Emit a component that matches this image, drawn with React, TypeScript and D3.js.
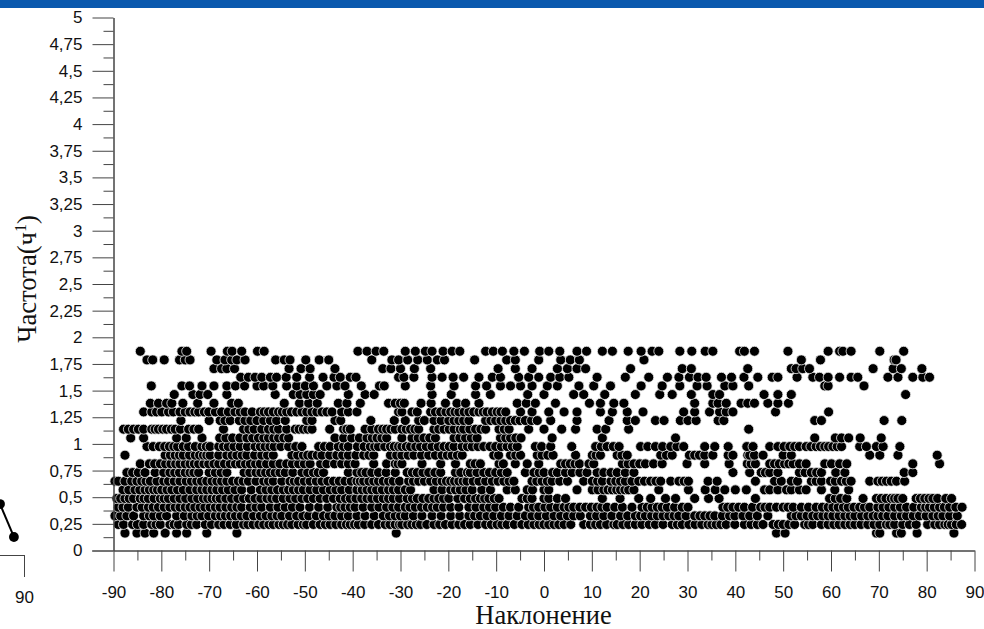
import React, { useEffect, useRef } from 'react';
import * as d3 from 'd3';

// frequency levels, one list of inclinations per level
const row0163 = [-87.6,-85.1,-83.4,-81.6,-79.2,-76.8,-74.7,-70.5,-64.2,-30.9,48.6,50.4,69.5,70.2,73.7,74.7,78,85.7];
const row0244 = [-89,-87.9,-86,-83.7,-82,-80.2,-78.2,-76.4,-74.7,-72.6,-70.8,-68,-65.6,-62.8,-60.8,-58.6,-56.6,-54.5,-52.7,-49.6,-46.8,-44.7,-42.3,-40.5,-38.8,-36,-33.2,-31.1,-29.7,-27.6,-25.8,-23,-20.6,-17.8,-15.4,-12.2,-9.8,-7.7,-4.6,-2.1,0,2.1,4.2,8.3,11.8,15.3,17.7,20.5,23.3,26.8,28.9,31.6,34.3,36,38.1,39.9,41.9,43.3,45.8,47.9,50,52.4,56.2,58,59.4,62.9,65,67.7,70.2,73.3,77.8,81.7,83.8,85.2,87.3];
const row0325 = [-89.7,-87.2,-85.8,-83.7,-81.6,-78.9,-76.8,-73.6,-71.5,-68.7,-66.6,-64.5,-62.1,-59.3,-56.9,-54.8,-51.7,-49.2,-46.1,-43.7,-40.9,-37.4,-33.6,-31.1,-29,-25.5,-23.4,-19.5,-15.7,-13.3,-10.5,-7.3,-3.9,-1.1,2.1,4.9,7.6,9.7,12.5,16,19.1,21.2,23.7,26.1,28.2,29.7,31.5,33.6,35.7,38.8,39.9,41.6,44.6,46.8,51.7,53.8,56.2,58.3,60.4,62.9,65,67.7,69.8,71.9,74.7,78.5,81.3,83.4,86.4];
const row0406 = [-89,-86.9,-85.1,-82.7,-80.6,-78.2,-76.1,-74,-71.9,-69.8,-67.7,-65.3,-63.2,-61.4,-59,-57.2,-54.1,-51,-47.1,-43.3,-41.6,-39.5,-36,-32.9,-30.4,-29,-26.9,-24.4,-22.3,-19.5,-17.8,-15.7,-12.6,-10.1,-7,-5.3,-3.2,-1.1,1.4,4.2,6.2,8.7,11.1,13.2,16.4,20.5,22.6,24.7,28.9,30.1,37.4,39.5,41.9,45.3,47.2,50,52.1,53.8,56.9,59.4,61.5,63.6,66,68.1,69.8,73.3,75.8,78.9,80.6,82.7,84.8,87.4];
const row0488 = [-89.3,-87.6,-85.8,-84.4,-82.7,-80.2,-78.5,-76.1,-73.6,-71.2,-69.4,-67.7,-65.3,-62.8,-60.4,-57.9,-55.9,-53.1,-50.6,-48.2,-45.4,-42.6,-40.5,-38.1,-36,-33.6,-31.5,-28.6,-26.5,-24.1,-22,-19.9,-15.4,-13.3,-11.5,-9.4,-4.6,-2.5,1,4.5,12.2,15.9,19.8,22.3,25.4,27.5,31.5,34.4,36.6,44.2,59.7,62,66.7,69.5,70.5,72.6,74,77.8,79.6,81.3,85.2];
const row0569 = [-88,-85.5,-83.4,-81.6,-79.9,-77.8,-75.4,-72.6,-70.5,-68.4,-66,-63.2,-59.3,-56.9,-54.5,-52.4,-50.3,-47.5,-44.7,-42.3,-39.1,-37,-35,-32.5,-30.4,-27.9,-23,-19.5,-17.5,-15,-11.2,-7.7,-3.5,1,6.9,10.1,12.5,14.3,16,17.7,24,30.2,33.7,35.8,37.8,40,42.3,46.1,47.2,48.9,50.7,51.7,53.4,54.8,58,60.8,63.7];
const row0650 = [-89.7,-89,-86.2,-84.1,-82.3,-79.5,-78.5,-76.1,-72.6,-70.5,-68.4,-66.3,-63.9,-61.8,-58.6,-56.6,-53.1,-51.3,-48.9,-46.4,-44,-41.6,-39.1,-37.7,-35.6,-33.6,-31.5,-28.3,-26.2,-23.7,-21.3,-19.5,-17.8,-16.1,-13.6,-10.8,-8.4,-6.3,-2.5,-0.4,1.7,4.9,8.3,10.1,12.2,15,17,19.8,22.3,24.4,28.2,30.2,34.3,36.2,44.2,48.2,49.6,51.7,55.9,58,59.9,62.2,64.2,68.1,69.8,71.6,73.7,75.4];
const row0731 = [-87.2,-86,-84.8,-83.4,-81.3,-78.2,-76.2,-74,-72.2,-68.7,-66.3,-62.7,-60.2,-58.2,-56.2,-54.1,-50.6,-48.2,-46.1,-40.9,-39.1,-37.2,-34.6,-31.1,-28.6,-26.5,-24.1,-21.6,-18.5,-17.4,-15.4,-12.6,-10.1,-7.7,-3.9,-2.1,0,1.8,2.8,5.9,9,11.1,12.5,15.3,18.8,39.5,43,45.4,47.2,48.9,53.4,55.9,58,62.9,75.3,77.1];
const row0813 = [-84.4,-82.5,-80.2,-78,-76.1,-74,-72.2,-70.1,-68,-65.6,-63.5,-61.4,-59.3,-56.6,-53.8,-51.3,-48.9,-45.4,-42.3,-39.5,-35.6,-32.9,-31.1,-29.7,-25.5,-21.6,-18.5,-15.4,-13.3,-9.4,-6,-3.5,-1.1,3.5,5.5,7.4,10.4,16.4,18.8,21.2,24.7,29.9,33.6,38.7,42.5,44.2,47.2,48.2,50.3,52.1,53.4,54.8,58.7,60.1,61.8,63.3,77.1,82.7];
const row0894 = [-87.6,-79.2,-77.1,-75.4,-72.9,-71.2,-69.8,-68,-66.3,-64.2,-62.1,-59,-56.6,-52.7,-50.3,-48.5,-46.4,-43.3,-40.9,-37.7,-35.6,-32.1,-30.8,-29.7,-27.2,-24.1,-21.3,-19.2,-17.1,-10.5,-7,-4.9,-0.4,1.9,6.6,10.1,11.8,15.3,17.4,24.4,26.8,30.4,31.5,33.6,35.3,38.5,39.5,42.6,44,45.8,50,51.7,68.1,70.2,74,82.2];
const row0975 = [-83,-80.4,-78.3,-76.6,-74.3,-71.5,-69.8,-68,-66,-63.5,-60.4,-58.3,-56.4,-53.4,-50.6,-47.1,-44.7,-43,-40.9,-39,-36.3,-34.6,-32.1,-30.4,-29.7,-27.9,-25.8,-23.4,-20.9,-18.8,-17.1,-15,-12.6,-10.1,-7.7,-5.6,-1.8,1.4,5.8,10.8,13.2,15.7,20.2,23.3,26.5,29.2,33.6,35.7,38.5,42.4,43.7,47.2,48.9,51.4,53.4,54.8,56.9,58.7,60.4,62.2,66,67.4,69.5,70.9,74.4];
const row1056 = [-86.4,-83.7,-76.8,-74.8,-71.5,-67.8,-65.1,-62.1,-59.7,-57.6,-55.5,-53.4,-43.7,-40.2,-37,-34.9,-32.9,-29.7,-27.6,-25.1,-22.7,-18.8,-16.4,-14,-9.1,-7,-4.8,1.7,12.2,27.5,56.6,60.9,62.2,63.7,66.1,70.5];
const row1138 = [-87.9,-85.8,-83.7,-82,-80.6,-78.9,-77.1,-74.3,-72.2,-67,-62.8,-60.6,-57.6,-55.5,-52,-50.3,-48.5,-44.8,-41.9,-40.5,-37.4,-34.6,-32.9,-31.1,-29.7,-27.9,-26.2,-23,-20.9,-18.8,-16.8,-14.3,-12.2,-9.4,-7.3,-3.2,0,3.7,6.6,11.1,12.9,17.7,42.8];
const row1219 = [-75.9,-70,-67.7,-65.6,-63.7,-61.3,-58.6,-57.2,-55.9,-54.1,-49.6,-48.5,-43.7,-42.5,-36.2,-31.3,-29,-26.2,-23,-19.9,-17.8,-15.7,-12.2,-10.1,-8,-6,-3.9,-1.4,1.4,6.9,13.6,17.4,19.1,23.3,25.1,28.5,30.1,31.8,36.4,37.6,56.6,58,71.1,74.8];
const row1300 = [-83.7,-82,-79.9,-78.5,-77.5,-76.1,-74,-72.2,-70.1,-68.7,-67.4,-66,-64.6,-62.5,-59.3,-57.6,-55.5,-53.8,-51.7,-49.6,-47.5,-45.4,-42.3,-40.9,-39.1,-30.4,-29.7,-27.6,-23.7,-21.6,-19.5,-17.8,-15.7,-13.6,-11.9,-9.8,-8,-4.9,-2.5,1,4.2,6.9,11.8,14.3,17.4,20.7,29.2,31.5,34.6,36.7,38.1,39.5,48.4,59.5];
const row1381 = [-82.3,-80.6,-78.9,-77.8,-75.5,-72.4,-69,-65.3,-63.9,-54.3,-51.1,-49.2,-47.4,-43,-41.2,-38.4,-32.5,-31.1,-30,-29.2,-25.7,-23.6,-20.6,-18.2,-16.4,-13.6,-5.6,-3.7,-1.8,2.4,9.5,11.8,14.6,16.7,31.5,35.3,36.4,38.1,41.2,42.6,44,46.8,48.9,51.1];
const row1463 = [-77.3,-73.4,-71.9,-70.3,-66.3,-56.2,-52.4,-51,-49.6,-48.2,-46.8,-40.9,-37.4,-35.5,-23.4,-19.4,-14.3,-11.2,-3.4,0,6.2,8.3,12.7,19.1,24.2,26.8,30.8,35.3,36.7,46,48.9,51.7,75.6];
const row1544 = [-82.1,-75.7,-74.1,-71.5,-69,-66.3,-64.5,-62.6,-60,-58.6,-56.7,-53.8,-51.7,-49.9,-48.2,-45.4,-43.3,-41.6,-38.2,-34.4,-33.4,-29,-23.7,-18.8,-14.3,-12,-9.1,-7,-4.9,-2.5,0.7,2.8,7.3,10.4,13.9,20.3,24.7,28.4,32,34.1,37.8,39.5,42.8,58.7,59.4,66.9];
const row1625 = [-63.4,-61.8,-60.4,-59,-57.2,-55.9,-53.9,-51.7,-49,-46.2,-43.9,-42.6,-40.5,-39.3,-30.4,-29.3,-27.2,-23.4,-21.3,-19,-16.8,-13.6,-10.8,-9.1,-5.3,-3.2,-1.1,1.4,3.3,5.2,11.1,17,21.9,25.8,28.2,30.4,32.2,33.9,37.1,39.2,41.8,44.7,47.7,48.9,52.9,56.2,57.6,59.4,61.8,64.2,65.6,71.9,74,77.1,79.2,80.6];
const row1706 = [-69,-67.4,-66.3,-64.7,-53.3,-50.8,-48.9,-43.7,-33.7,-32,-30,-27.1,-23.7,-9.6,-6,-2.5,2.8,4.9,6.9,8.7,18.1,28.9,30.8,42.6,51.7,52.7,54.1,55.5,68.8,73,74.7,79];
const row1788 = [-83,-81.8,-79.4,-76.2,-75,-74,-68.4,-66.7,-65.3,-64.2,-62.5,-56.1,-54.3,-53.1,-49.8,-47,-45,-36,-31.8,-30.4,-28.5,-26.4,-24.4,-22.3,-20.8,-14.5,-7.8,-6,-1.1,3.5,5.5,7.4,20.9,53.8,57.8,73.2,73.6];
const row1869 = [-84.4,-75.7,-74.7,-69.6,-66.2,-65.2,-63.2,-59.9,-58.5,-38.9,-37,-35.1,-33.5,-29,-26.9,-24.8,-23.4,-21.1,-19.2,-17.6,-12.2,-10.6,-8.7,-6.3,-4.1,-0.9,1,3.3,6.9,8.9,12.2,14.3,17.6,20.3,22.6,24,28.4,30.9,33.7,35.3,40.9,41.9,44,51,59.4,61.8,62.5,64.2,70.2,75.2];

// second pass over the picture: points half hidden under their neighbours
const more0244 = [-85,-81.1,-77.3,-73.7,-69.5,-66.9,-64.3,-61.9,-59.6,-57.5,-55.4,-53.6,-51.4,-50.3,-48.2,-45.7,-43.5,-41.3,-39.6,-37.5,-34.6,-32.2,-30.2,-28.5,-26.7,-24.5,-21.8,-19.2,-16.6,-13.8,-11,-8.8,-6.2,-3.3,-1,1,3.1,5.6,9.7,10.8,13.1,14.6,16.5,19.1,22,24.9,27.9,30.3,33,35.1,37,44.6,49,51.2,54.5,55.3,60.6,61.7,64,66.3,69,71.6,72.3,75,76.4,80.2,82.7,84.5,86.2];
const more0325 = [-88.5,-82.5,-80.2,-75.2,-72.5,-70.1,-67.6,-65.5,-63.3,-60.7,-58.1,-55.8,-53.2,-50.4,-47.6,-44.9,-42.3,-39.1,-35.5,-32.3,-30,-27.3,-21.5,-17.6,-14.5,-11.9,-8.9,-5.6,-2.5,0.5,3.5,6.2,11,14.2,17.5,20.2,22.5,24.9,27.2,32.6,34.7,37.3,43,52.7,55,57.2,59.4,61.7,64,66.4,68.8,70.8,73.3,75.8,77.2,79.9,82.4,84.8];
const more0406 = [-88,-84,-81.7,-79.4,-77.1,-75,-73,-70.9,-68.7,-66.5,-64.2,-60.2,-55.6,-52.6,-49,-45.2,-42.5,-40.5,-37.8,-34.5,-31.6,-28,-25.6,-23.3,-21,-14.2,-11.4,-8.5,-2.2,0.2,2.8,5.2,7.5,9.9,12.1,14.8,18.4,21.6,23.7,25.8,27.3,38.4,40.7,43.6,46.2,48.6,51,55.3,58.2,60.4,62.6,64.8,67,70.9,72.1,74.5,77.3,79.8,81.6,83.7,86.1];
const more0488 = [-88.5,-86.7,-83.6,-81.5,-79.4,-77.3,-74.9,-72.4,-70.3,-68.5,-66.5,-64,-61.6,-59.2,-56.9,-54.5,-51.9,-49.4,-46.8,-44,-41.5,-39.3,-37,-34.8,-32.5,-30.2,-27.5,-25.3,-23,-21,-18,-16.6,-14.3,-12.4,-10.4,-3.5,0,2.8,60.9,63.3,71.5,73.3,75,78.7,80.5,82.3,84];
const more0569 = [-86.8,-84.5,-82.5,-80.8,-78.8,-76.6,-74,-71.5,-69.4,-67.2,-64.6,-61.2,-58.1,-55.7,-53.4,-51.3,-48.9,-46.1,-43.5,-40.7,-38,-36,-33.8,-31.5,-29,-21.3,-18.5,-16.3,-13,-6,-2.4,0,11.3,13.4,15.2,16.9,18.8];
const more0650 = [-87.6,-85.1,-83.2,-80.9,-77.3,-74.8,-73.7,-71.6,-69.4,-67.4,-65.1,-62.9,-60.2,-57.6,-54.8,-52.2,-50.1,-47.6,-45.2,-42.8,-40.3,-38.4,-36.6,-34.6,-32.5,-30.2,-27.3,-25,-22.5,-20.4,-18.7,-16.9,-14.8,-12.2,-9.6,-7.3,-1.5,0.7,3.3,11.2,14,16,18.4,21,23.4,26.5,29.3,53,56.9,60.9,63.2,70.7,72.6];
const more0731 = [-79.5,-77.2,-75,-73.2,-70,-67.5,-61.5,-59.2,-57.2,-55.2,-52.5,-49.4,-47.2,-38.1,-36,-33,-27.5,-25.3,-22.8,-16,-14,-11.4,-8.9,-1,4.5,7.5,14,17,46.3,54.6,57,61];
const more0813 = [-81.4,-79.1,-77,-75,-73.1,-71.1,-69,-66.8,-64.5,-62.4,-60.3,-58,-55.2,-52.6,-50.1,-46.7,-43.8,-40.9,-30.5,-14.4,-8.5,4.5,6.5,9.4,17.6,20,22.9,43.3,49.2,51.2];
const more0894 = [-78.1,-76.2,-74.1,-72,-70.5,-65.2,-63.1,-60.5,-57.8,-51.5,-49.4,-47.4,-44.8,-42.1,-39.3,-36.6,-28.4,-25.6,-22.7,-20.2,-18.1,-9.5,-5.9,-1.4,0.8,10.9,16.3,25.6,32.5,43];
const more0975 = [-81.7,-79.3,-77.4,-75.4,-72.9,-70.6,-67,-64.8,-62,-59.3,-57.3,-55,-51.9,-45.9,-41.9,-37.6,-35.4,-33.3,-31.3,-28.8,-26.8,-24.6,-22.1,-19.8,-16,-13.8,-11.3,-8.9,-6.6,-0.5,12,14.5,21.7,24.8,27.8,50.2,52.4,55.8,57.8,59.5,61.3];
const more1056 = [-66.5,-63.6,-60.9,-58.6,-56.5,-54.4,-41.9,-38.6,-35.9,-33.9,-26.3,-23.9,-17.6,-15.2,-8,-5.9];
const more1138 = [-86.9,-84.8,-81.3,-79.7,-77.9,-76,-73.2,-61.7,-59,-56.5,-53.8,-51.2,-49.4,-41.2,-36,-33.7,-32,-28.8,-27,-22,-19.8,-17.5,-15.5,-13.2,-8.3];
const more1219 = [-66.7,-62.5,-60,-25,-21.5,-18.8,-16.8,-11.1,-9,-7,-5,-2.6];
const more1300 = [-81,-75,-73,-71,-63.5,-61,-58.5,-56.6,-54.7,-52.8,-50.6,-48.5,-46.4,-44.3,-26.5,-22.7,-20.5,-18.6,-16.7,-14.7,-12.7,-10.8,-9];

const levels = [0.163,0.244,0.325,0.406,0.488,0.569,0.65,0.731,0.813,0.894,0.975,1.056,1.138,1.219,1.3,1.381,1.463,1.544,1.625,1.706,1.788,1.869];
const rows = [row0163,row0244.concat(more0244),row0325.concat(more0325),row0406.concat(more0406),row0488.concat(more0488),row0569.concat(more0569),row0650.concat(more0650),row0731.concat(more0731),row0813.concat(more0813),row0894.concat(more0894),row0975.concat(more0975),row1056.concat(more1056),row1138.concat(more1138),row1219.concat(more1219),row1300.concat(more1300),row1381,row1463,row1544,row1625,row1706,row1788,row1869];

const xTicks = [-90,-80,-70,-60,-50,-40,-30,-20,-10,0,10,20,30,40,50,60,70,80,90];
const xMinor = [-85,-75,-65,-55,-45,-35,-25,-15,-5,5,15,25,35,45,55,65,75,85];
const yTicks = [0,0.25,0.5,0.75,1,1.25,1.5,1.75,2,2.25,2.5,2.75,3,3.25,3.5,3.75,4,4.25,4.5,4.75,5];
const yMinor = [0.125,0.375,0.625,0.875,1.125,1.375,1.625,1.875,2.125,2.375,2.625,2.875,3.125,3.375,3.625,3.875,4.125,4.375,4.625,4.875];

// piece of the neighbouring panel cut off at the left edge
const cutX = [85, 87.9];
const cutY = [0.478, 0.169];

const comma = (d: any) => String(d).replace('.', ',');

function App() {
  const ref = useRef<SVGSVGElement>(null);

  useEffect(() => {
    document.body.style.margin = '0';
    const svg = d3.select(ref.current);
    svg.selectAll('*').remove();

    const x = d3.scaleLinear().domain([-90, 90]).range([113.5, 974.5]);
    const y = d3.scaleLinear().domain([0, 5]).range([550.5, 17.5]);
    const font = 'Liberation Sans, Arial, sans-serif';
    const serif = 'Liberation Serif, Times New Roman, serif';

    svg.append('rect').attr('width', 984).attr('height', 8).attr('fill', '#0a59ae');

    const pts = svg.append('g');
    levels.forEach((lv, i) => {
      pts.selectAll(null)
        .data(rows[i].slice().sort(d3.ascending))
        .enter()
        .append('circle')
        .attr('cx', (d) => x(d))
        .attr('cy', y(lv))
        .attr('r', 5)
        .attr('fill', '#000')
        .attr('stroke', '#eee')
        .attr('stroke-width', 0.8);
    });

    const styleAxis = (g: any) => {
      g.select('.domain').attr('stroke', '#444').attr('stroke-width', 1);
      g.selectAll('line').attr('stroke', '#444').attr('stroke-width', 1);
      g.selectAll('text')
        .attr('font-family', font)
        .attr('font-size', 17)
        .attr('fill', '#111');
    };

    svg.append('g').attr('transform', 'translate(0,550.5)')
      .call(d3.axisBottom(x).tickValues(xMinor).tickSize(10).tickFormat(() => '').tickSizeOuter(0) as any)
      .call(styleAxis);
    const xg = svg.append('g').attr('transform', 'translate(0,550.5)')
      .call(d3.axisBottom(x).tickValues(xTicks).tickSize(21).tickPadding(14).tickFormat(comma as any).tickSizeOuter(0) as any)
      .call(styleAxis);
    xg.select('.domain').attr('d', 'M92,0.5H974.5');

    svg.append('g').attr('transform', 'translate(113.5,0)')
      .call(d3.axisLeft(y).tickValues(yMinor).tickSize(10).tickFormat(() => '').tickSizeOuter(0) as any)
      .call(styleAxis);
    svg.append('g').attr('transform', 'translate(113.5,0)')
      .call(d3.axisLeft(y).tickValues(yTicks).tickSize(21).tickPadding(10).tickFormat(comma as any).tickSizeOuter(0) as any)
      .call(styleAxis);

    svg.append('text')
      .attr('x', 543.5)
      .attr('y', 624)
      .attr('text-anchor', 'middle')
      .attr('font-family', serif)
      .attr('font-size', 26.5)
      .attr('fill', '#111')
      .text('Наклонение');

    const yTitle = svg.append('text')
      .attr('transform', 'translate(36,279) rotate(-90)')
      .attr('text-anchor', 'middle')
      .attr('font-family', serif)
      .attr('font-size', 26.5)
      .attr('fill', '#111');
    yTitle.append('tspan').text('Частота(ч');
    yTitle.append('tspan').attr('font-size', 16).attr('dy', -10).text('1');
    yTitle.append('tspan').attr('dy', 10).text(')');

    // cut off panel at the left edge
    const cx = d3.scaleLinear().domain([80, 90]).range([-24, 24]);
    const cy = d3.scaleLinear().domain([0, 1]).range([555, 448.4]);
    const line = d3.line<number>().x((d) => cx(d)).y((_, i) => cy(cutY[i]));
    svg.append('path').datum(cutX).attr('d', line as any).attr('fill', 'none').attr('stroke', '#000').attr('stroke-width', 2);
    svg.selectAll(null).data(cutX).enter().append('circle')
      .attr('cx', (d) => cx(d))
      .attr('cy', (_, i) => cy(cutY[i]))
      .attr('r', 4.9)
      .attr('fill', '#000');
    svg.append('g').attr('transform', 'translate(0,555)')
      .call(d3.axisBottom(cx).tickValues([90]).tickSize(22).tickPadding(14).tickFormat(comma as any).tickSizeOuter(0) as any)
      .call(styleAxis);
  }, []);

  return <svg ref={ref} width={984} height={629} style={{ display: 'block', background: '#fff' }} />;
}

export default App;
